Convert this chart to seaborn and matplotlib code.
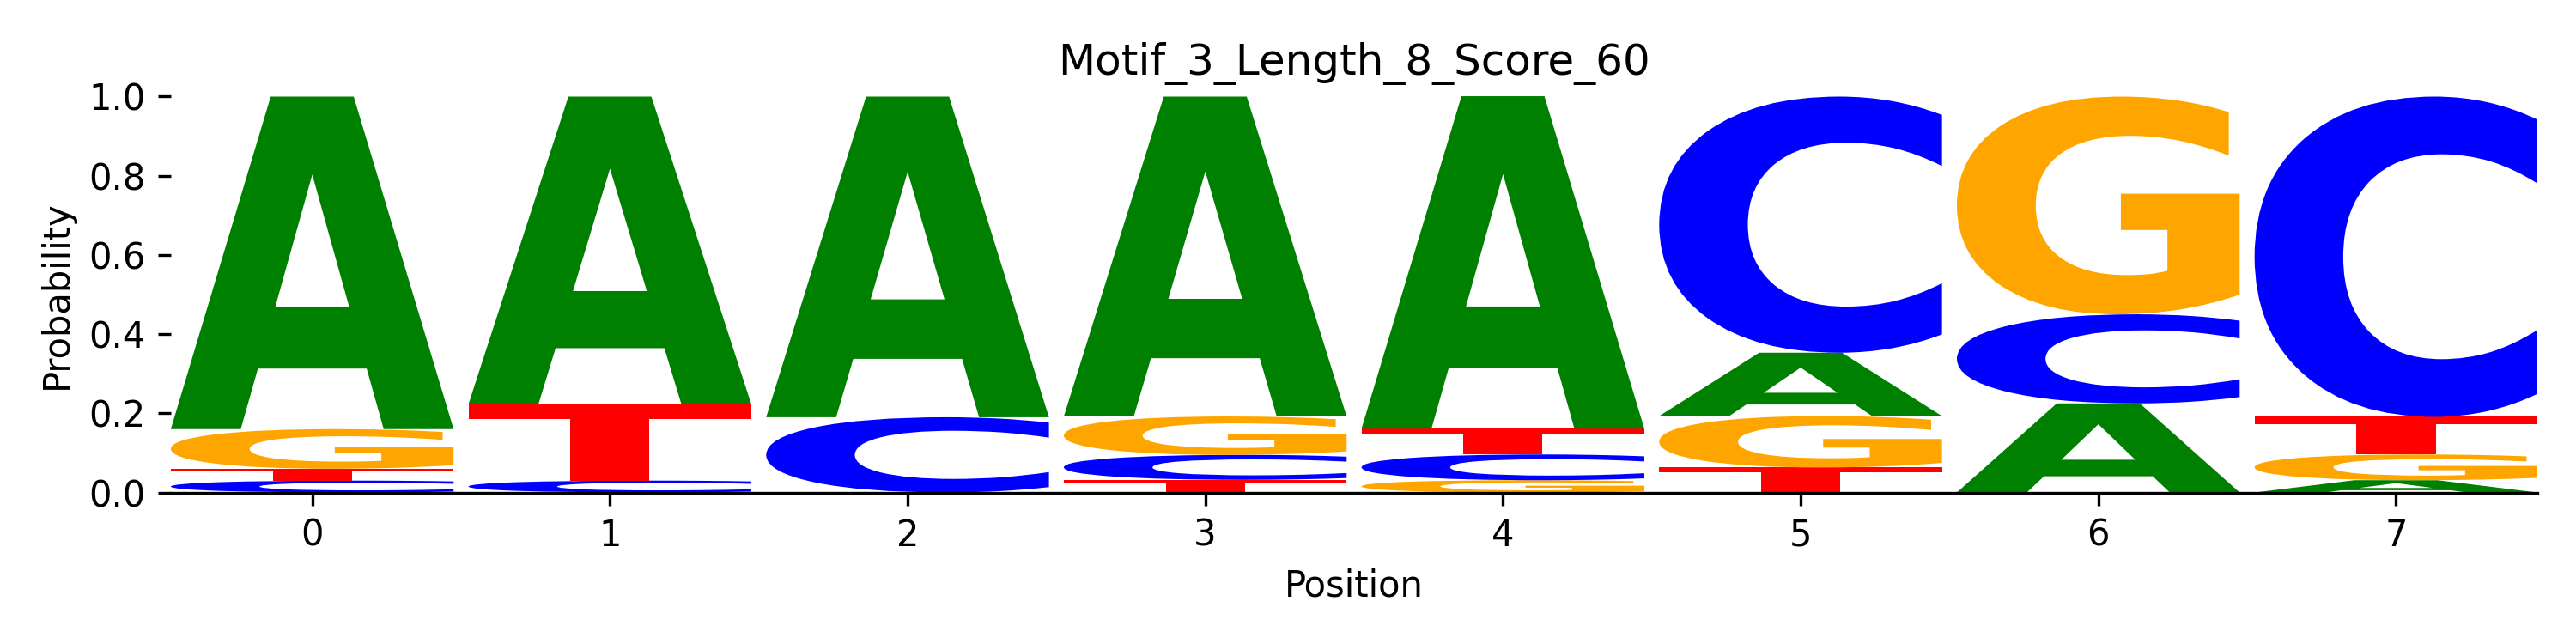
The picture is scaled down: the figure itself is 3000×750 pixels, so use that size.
import numpy as np
import pandas as pd
import matplotlib
matplotlib.use("Agg")
import matplotlib.pyplot as plt
import seaborn as sns
from matplotlib.textpath import TextPath
from matplotlib.patches import PathPatch
from matplotlib.font_manager import FontProperties
from matplotlib.transforms import Affine2D

# probability matrix (rows = positions)
positions = [0, 1, 2, 3, 4, 5, 6, 7]
prob_A = [0.84, 0.777, 0.81, 0.808, 0.84, 0.16, 0.225, 0.031]
prob_C = [0.03, 0.03, 0.19, 0.063, 0.065, 0.647, 0.225, 0.809]
prob_G = [0.10, 0.0, 0.0, 0.097, 0.031, 0.13, 0.55, 0.065]
prob_T = [0.03, 0.193, 0.0, 0.032, 0.065, 0.063, 0.0, 0.095]

df = pd.DataFrame({'A': prob_A, 'C': prob_C, 'G': prob_G, 'T': prob_T}, index=positions)

colors = {'A': '#008000', 'C': '#0000ff', 'G': '#ffa500', 'T': '#ff0000'}
title = "Motif_3_Length_8_Score_60"
width = 0.95

font = FontProperties(family='DejaVu Sans', weight='bold')


def draw_letter(ax, char, x, bottom, height, color):
    """把字母拉伸到指定的宽和高"""
    if height <= 0:
        return
    tp = TextPath((0, 0), char, size=1, prop=font)
    ext = tp.get_extents()
    tr = (Affine2D()
          .translate(-ext.x0, -ext.y0)
          .scale(width / ext.width, height / ext.height)
          .translate(x - width / 2, bottom))
    path = tr.transform_path(tp)
    ax.add_patch(PathPatch(path, facecolor=color, edgecolor='none', linewidth=0))


fig = plt.figure(figsize=(10, 2.5), dpi=300)
ax = fig.add_axes([0.0663, 0.2353, 0.9187, 0.6147])

# 每个位置：小的在下面，大的在上面
for pos, row in df.iterrows():
    bottom = 0.0
    for char, val in row.sort_values().items():
        draw_letter(ax, char, pos, bottom, val, colors[char])
        bottom += val

ax.set_xlim(-width / 2, len(positions) - 1 + width / 2)
ax.set_ylim(0, 1)
ax.set_xticks(positions)
ax.set_yticks([0.0, 0.2, 0.4, 0.6, 0.8, 1.0])
ax.set_xlabel("Position")
ax.set_ylabel("Probability")
ax.set_title(title, fontsize=12)
sns.despine(ax=ax, left=True)

fig.savefig("out.png", dpi=300)
